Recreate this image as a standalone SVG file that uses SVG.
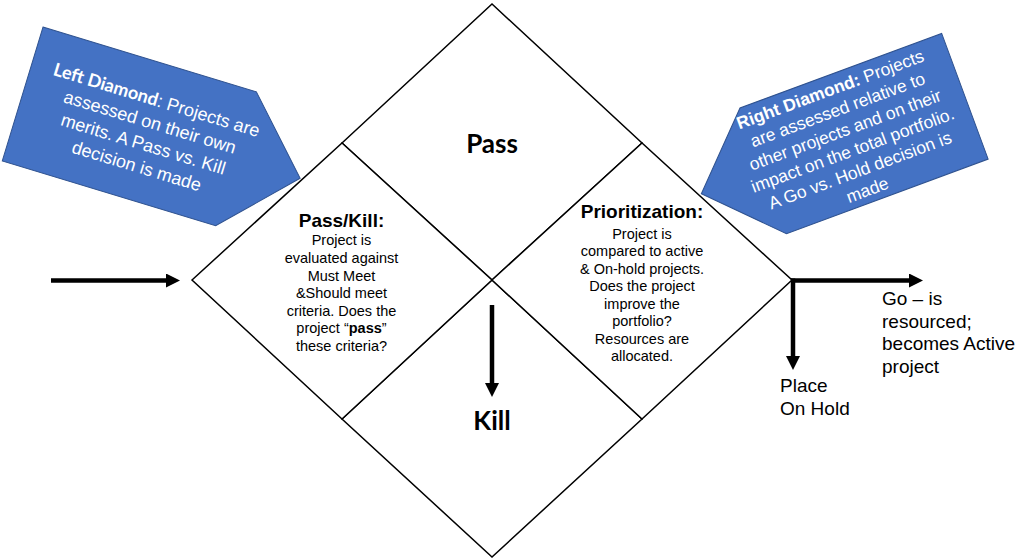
<svg xmlns="http://www.w3.org/2000/svg" width="1019" height="559" viewBox="0 0 1019 559">
<defs>
<style>
.dia{fill:#ffffff;stroke:#000000;stroke-width:1.5;stroke-linejoin:miter}
.call{fill:#4472C4;stroke:#2F528F;stroke-width:1}
.ct{font-family:"Liberation Sans",Arial,sans-serif;font-size:18px;fill:#ffffff;text-anchor:middle}
.ctr{font-family:"Liberation Sans",Arial,sans-serif;font-size:17.5px;fill:#ffffff;text-anchor:middle}
.big{font-family:Lato,"Liberation Sans",sans-serif;font-weight:bold;font-size:26px;fill:#000;text-anchor:middle}
.hd{font-family:"Liberation Sans",Arial,sans-serif;font-weight:bold;font-size:19px;fill:#000;text-anchor:middle}
.bd{font-family:"Liberation Sans",Arial,sans-serif;font-size:14.5px;fill:#000;text-anchor:middle}
.lb{font-family:"Liberation Sans",Arial,sans-serif;font-size:19px;fill:#000}
.arr{stroke:#000;stroke-width:4.5;fill:none}
</style>
<marker id="ah" viewBox="0 0 14 14" markerWidth="14" markerHeight="14" refX="0" refY="7" orient="auto" markerUnits="userSpaceOnUse">
<path d="M0,0 L14,7 L0,14 z" fill="#000"/>
</marker>
</defs>
<rect width="1019" height="559" fill="#ffffff"/>

<g id="node-pass">
<polygon class="dia" points="342,143 492,4 642,143 492,280"/>
<text class="big" x="492" y="153">Pass</text>
</g>
<g id="node-kill">
<polygon class="dia" points="342,419 492,280 642,419 492,557"/>
<text class="big" x="492" y="430">Kill</text>
</g>
<g id="node-passkill">
<polygon class="dia" points="192,280 342,143 492,280 342,419"/>
<text class="hd" x="341.5" y="227">Pass/Kill:</text>
<text class="bd" x="341.5" y="245">Project is</text>
<text class="bd" x="341.5" y="263">evaluated against</text>
<text class="bd" x="341.5" y="280.5">Must Meet</text>
<text class="bd" x="341.5" y="298">&amp;Should meet</text>
<text class="bd" x="341.5" y="315.5">criteria. Does the</text>
<text class="bd" x="341.5" y="333">project “<tspan font-weight="bold">pass</tspan>”</text>
<text class="bd" x="341.5" y="350.5">these criteria?</text>
</g>
<g id="node-prioritization">
<polygon class="dia" points="492,280 642,143 792,280 642,419"/>
<text class="hd" x="642" y="217.5">Prioritization:</text>
<text class="bd" x="642" y="238.5">Project is</text>
<text class="bd" x="642" y="256">compared to active</text>
<text class="bd" x="642" y="273.5">&amp; On-hold projects.</text>
<text class="bd" x="642" y="291">Does the project</text>
<text class="bd" x="642" y="308.5">improve the</text>
<text class="bd" x="642" y="326">portfolio?</text>
<text class="bd" x="642" y="343.5">Resources are</text>
<text class="bd" x="642" y="361">allocated.</text>
</g>

<g id="node-left-callout" transform="translate(43,27) rotate(16.9)">
<polygon class="call" points="0,0 223,0 290,70 223,140 0,140"/>
<text class="ct" x="130" y="43"><tspan font-family="Lato,'Liberation Sans',sans-serif" font-weight="bold">Left Diamond</tspan>: Projects are</text>
<text class="ct" x="130" y="66">assessed on their own</text>
<text class="ct" x="130" y="89">merits. A Pass vs. Kill</text>
<text class="ct" x="130" y="112">decision is made</text>
</g>

<g id="node-right-callout" transform="translate(740,108) rotate(-20.3)">
<polygon class="call" points="-66,67 0,0 215,0 215,134 0,134"/>
<text class="ctr" x="91" y="20"><tspan font-weight="bold">Right Diamond:</tspan> Projects</text>
<text class="ctr" x="91" y="41.5">are assessed relative to</text>
<text class="ctr" x="91" y="63">other projects and on their</text>
<text class="ctr" x="91" y="84.5">impact on the total portfolio.</text>
<text class="ctr" x="91" y="106">A Go vs. Hold decision is</text>
<text class="ctr" x="91" y="127">made</text>
</g>

<g id="node-go-label">
<text class="lb" x="882" y="305">Go – is</text>
<text class="lb" x="882" y="327.5">resourced;</text>
<text class="lb" x="882" y="350">becomes Active</text>
<text class="lb" x="882" y="372.5">project</text>
</g>
<g id="node-hold-label">
<text class="lb" x="780" y="392">Place</text>
<text class="lb" x="780" y="415">On Hold</text>
</g>

<g id="connectors">
<line class="arr" x1="51" y1="280.5" x2="166" y2="280.5" marker-end="url(#ah)"/>
<line class="arr" x1="492" y1="305" x2="492" y2="383" marker-end="url(#ah)"/>
<line class="arr" x1="791" y1="280.5" x2="909" y2="280.5" marker-end="url(#ah)"/>
<line class="arr" x1="793" y1="278.5" x2="793" y2="356" marker-end="url(#ah)"/>
</g>
</svg>
